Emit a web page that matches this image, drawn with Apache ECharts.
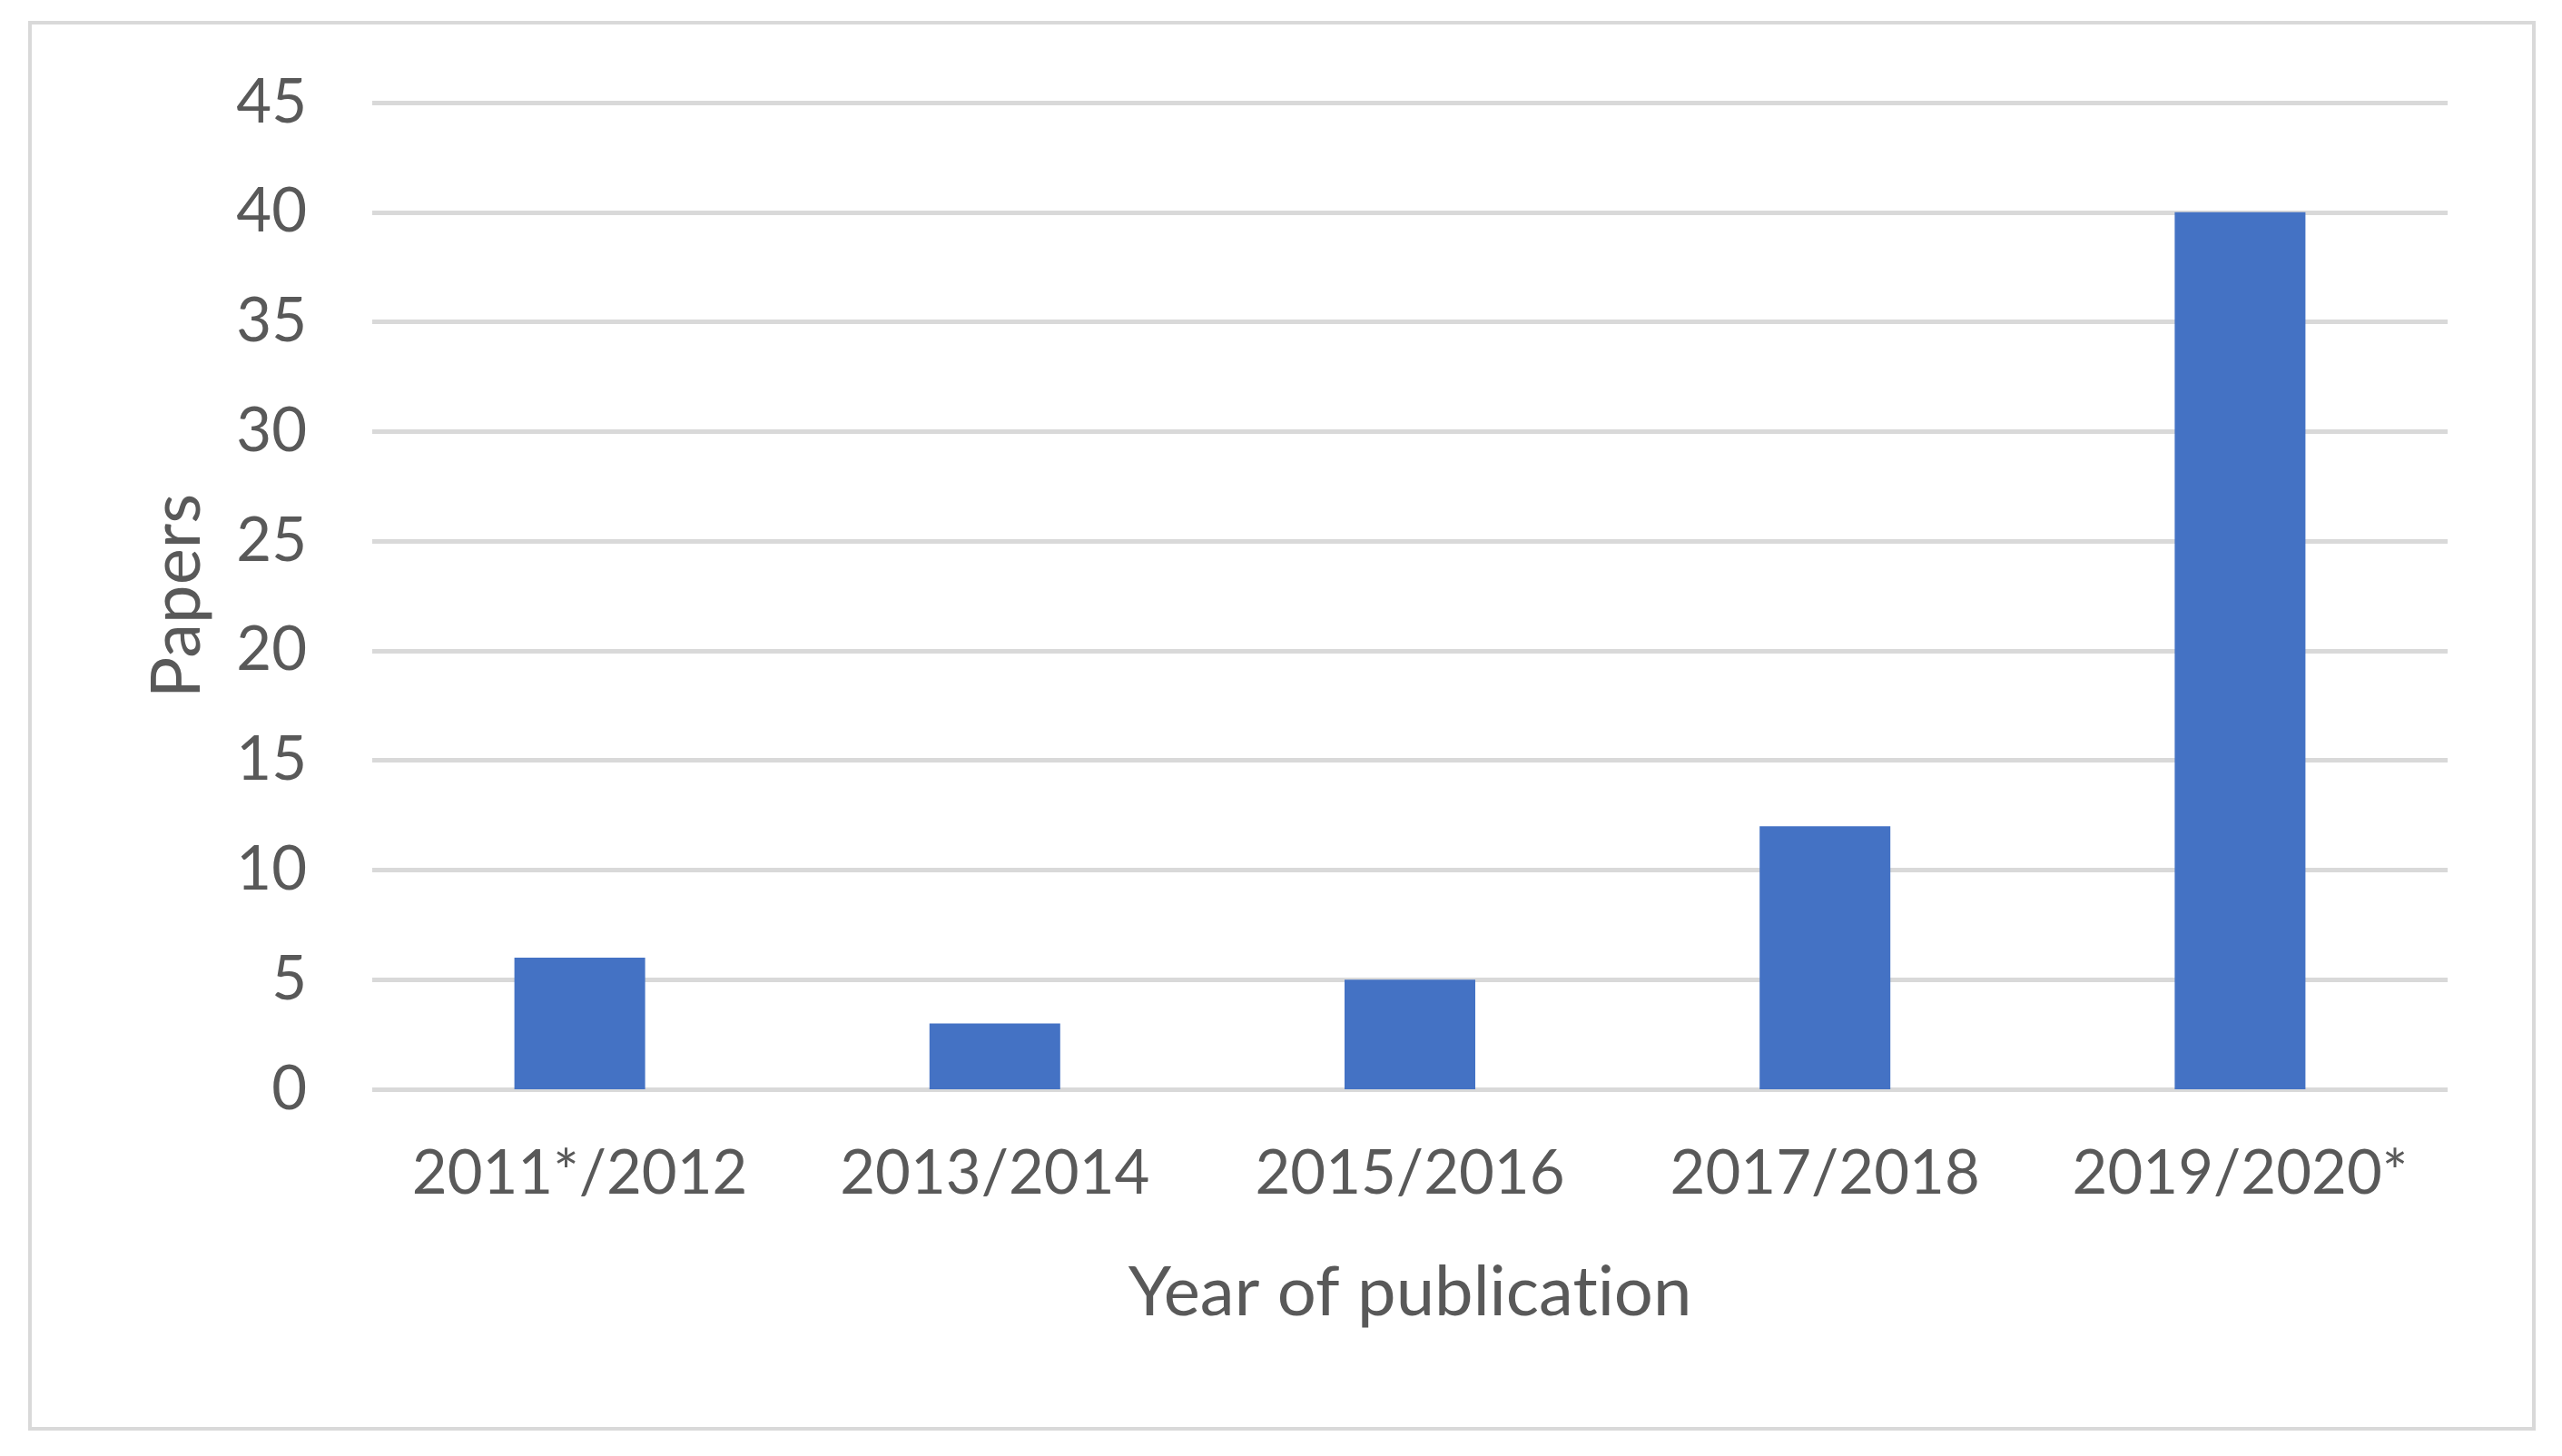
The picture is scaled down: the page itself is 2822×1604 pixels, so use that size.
<!DOCTYPE html>
<html>
<head>
<meta charset="utf-8">
<script src="https://cdn.jsdelivr.net/npm/echarts@6/dist/echarts.min.js"></script>
<style>
  html, body { margin: 0; padding: 0; background: #fff; }
  #chart { width: 2822px; height: 1604px; font-variant-ligatures: none; }
</style>
</head>
<body>
<div id="chart"></div>
<script>
const categories = ['2011*/2012', '2013/2014', '2015/2016', '2017/2018', '2019/2020*'];
const papers = [6, 3, 5, 12, 40];

const FONT = 'Lato';
const TEXT = '#595959';
const GRID = '#d9d9d9';

const myChart = echarts.init(document.getElementById('chart'));

const option = {
  backgroundColor: '#ffffff',
  animation: false,
  grid: {
    left: 410,
    right: 126,
    top: 113,
    bottom: 404
  },
  graphic: [
    {
      type: 'rect',
      shape: { x: 33, y: 25, width: 2758, height: 1549 },
      style: { fill: 'none', stroke: GRID, lineWidth: 4 }
    }
  ],
  xAxis: {
    type: 'category',
    data: categories,
    name: 'Year of publication',
    nameLocation: 'middle',
    nameGap: 186,
    nameTextStyle: { fontFamily: FONT, fontSize: 76, color: TEXT },
    axisLine: { show: false },
    axisTick: { show: false },
    axisLabel: { interval: 0, fontFamily: FONT, fontSize: 67, color: TEXT, margin: 60 }
  },
  yAxis: {
    type: 'value',
    min: 0,
    max: 45,
    interval: 5,
    name: 'Papers',
    nameLocation: 'middle',
    nameGap: 177,
    nameTextStyle: { fontFamily: FONT, fontSize: 76, color: TEXT },
    axisLine: { show: false },
    axisTick: { show: false },
    axisLabel: { fontFamily: FONT, fontSize: 67, color: TEXT, margin: 72 },
    splitLine: { lineStyle: { color: GRID, width: 5 } }
  },
  series: [
    {
      name: 'Papers',
      type: 'bar',
      data: papers,
      barWidth: 144,
      itemStyle: { color: '#4472c4' }
    }
  ]
};

myChart.setOption(option);
</script>
</body>
</html>
